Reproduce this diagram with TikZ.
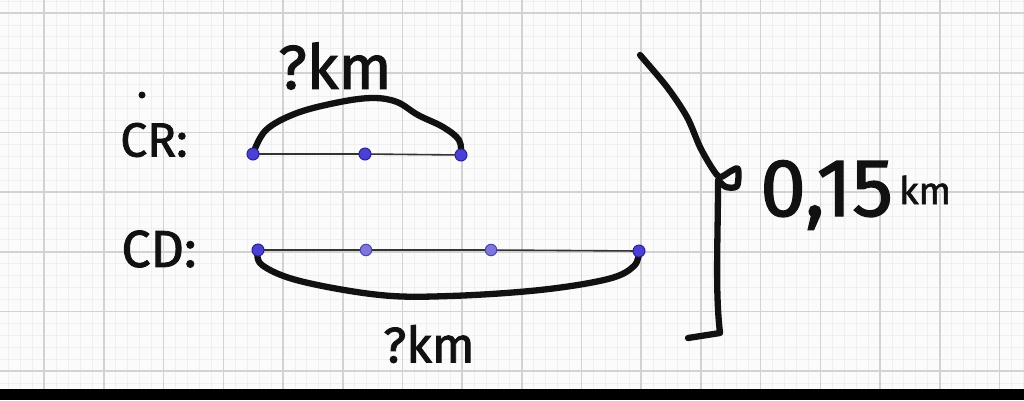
\documentclass[tikz,border=0pt]{standalone}
\usepackage{fontspec}
\setmainfont{Fira Sans}
\newfontfamily\handfont{Fira Sans}[FakeBold=1.6]
\definecolor{paper}{HTML}{FBFBFB}
\definecolor{majorgrid}{HTML}{D2D2D2}
\definecolor{minorgrid}{HTML}{EFEFEF}
\definecolor{ink}{HTML}{111111}
\definecolor{dotfill}{HTML}{4A40D6}
\definecolor{dotedge}{HTML}{2A2490}
\definecolor{dotlight}{HTML}{7E76DC}
\definecolor{dotlightedge}{HTML}{4C46A6}
\tikzset{
  majorline/.style={draw=majorgrid, line width=1.6pt},
  minorline/.style={draw=minorgrid, line width=0.8pt},
  inkline/.style={draw=ink, line width=6.3pt, line cap=round, line join=round},
  segline/.style={draw=black!80, line width=1.6pt},
  ptdot/.style={circle, fill=dotfill, draw=dotedge, line width=1pt, inner sep=0pt, minimum size=12pt},
  ptdotlight/.style={circle, fill=dotlight, draw=dotlightedge, line width=1pt, inner sep=0pt, minimum size=11.5pt},
  hand/.style={text=ink, inner sep=0pt},
}
\begin{document}
\begin{tikzpicture}[x=1pt,y=-1pt]
\useasboundingbox (0,0) rectangle (1024,400);
\fill[paper] (0,0) rectangle (1024,400);
% minor grid
\foreach \i in {-4,...,82} {\draw[minorline] ({44.2+11.94*\i},0) -- ({44.2+11.94*\i},389);}
\foreach \i in {-1,...,32} {\draw[minorline] (0,{13+11.94*\i}) -- (1024,{13+11.94*\i});}
% major grid
\foreach \i in {0,...,16} {\draw[majorline] ({44.2+59.7*\i},0) -- ({44.2+59.7*\i},389);}
\foreach \i in {0,...,6} {\draw[majorline] (0,{13+59.7*\i}) -- (1024,{13+59.7*\i});}
% bottom bar
\fill[black] (0,389) rectangle (1024,400);

% points
\coordinate (r1) at (253,154);
\coordinate (r2) at (365,154);
\coordinate (r3) at (461,155);
\coordinate (d1) at (258,250);
\coordinate (d2) at (366,250);
\coordinate (d3) at (491,250);
\coordinate (d4) at (639,251);

% arcs
\draw[inkline] plot[smooth, tension=0.6] coordinates {(r1) (266,130) (297,113) (340,102) (373,98) (397,102) (418,115) (443,127) (459,140) (r3)};
\draw[inkline] plot[smooth, tension=0.6] coordinates {(d1) (262,265) (300,281) (380,295) (450,296) (540,290) (608,279) (634,266) (d4)};

% segments
\draw[segline] (r1) -- (r2) -- (r3);
\draw[segline] (d1) -- (d2) -- (d3) -- (d4);

% dots
\node[ptdot] (R1) at (r1) {};
\node[ptdot] (R2) at (r2) {};
\node[ptdot] (R3) at (r3) {};
\node[ptdot] (D1) at (d1) {};
\node[ptdotlight] (D2) at (d2) {};
\node[ptdotlight] (D3) at (d3) {};
\node[ptdot] (D4) at (d4) {};

% bracket
\draw[inkline] plot[smooth, tension=0.5] coordinates {(640,55) (667,87) (687,117) (700,147) (712,168) (720,177) (731,171) (738,169) (737,186) (726,187) (718,180)};
\draw[inkline] (718,182) .. controls (718,240) and (715,290) .. (720,333) -- (688,338);

% labels
\node[hand, font=\handfont\fontsize{62}{62}\selectfont] (qtop) at (335,66) {?km};
\node[hand, font=\handfont\fontsize{50}{50}\selectfont] (qbot) at (429,344) {?km};
\node[hand, font=\handfont\fontsize{48}{48}\selectfont] (cr) at (154,140) {CR:};
\node[circle, fill=ink, inner sep=0pt, minimum size=7pt] (stray) at (142,95) {};
\node[hand, font=\handfont\fontsize{52}{52}\selectfont] (cd) at (159,249) {CD:};
\node[hand, font=\handfont\fontsize{82}{82}\selectfont, anchor=base west] (len) at (760,216) {0,15\hspace{6pt}\raisebox{12pt}{\fontsize{38}{38}\selectfont km}};
\end{tikzpicture}
\end{document}
